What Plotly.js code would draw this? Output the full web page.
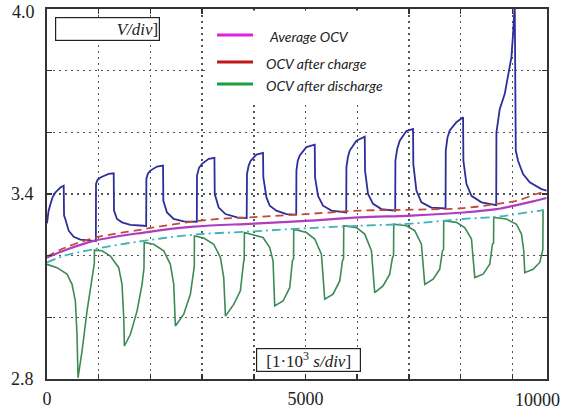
<!DOCTYPE html>
<html>
<head>
<meta charset="utf-8">
<script src="https://cdn.plot.ly/plotly-3.0.1.min.js"></script>
<style>html,body{margin:0;padding:0;background:#fff;}#chart{width:570px;height:412px;}</style>
</head>
<body>
<div id="chart"></div>
<script>
// Time in seconds, voltage in volts
var chargeT = [0,30,66,110,162,259,323,330,355,420,516,646,903,945,948,975,1020,1064,1193,1290,1296,1354,1451,1613,1870,1918,1922,1950,2000,2128,2244,2250,2321,2450,2644,2870,2898,2901,2940,2998,3128,3238,3244,3321,3451,3675,3837,3862,3868,3900,3940,4050,4178,4184,4244,4308,4437,4631,4791,4820,4824,4850,4888,5017,5178,5184,5242,5338,5501,5759,5787,5791,5820,5855,5985,6145,6151,6209,6306,6468,6706,6734,6738,6775,6822,6951,7079,7085,7144,7241,7434,7692,7708,7712,7745,7789,7918,8047,8053,8112,8209,8402,8660,8688,8692,8756,8853,8917,8982,9014,9046,9066,9110,9207,9336,9563,9660];
var chargeV = [3.305,3.345,3.367,3.390,3.405,3.421,3.427,3.330,3.318,3.281,3.261,3.252,3.248,3.247,3.433,3.445,3.452,3.456,3.465,3.467,3.346,3.319,3.308,3.300,3.297,3.296,3.449,3.466,3.476,3.489,3.492,3.378,3.340,3.319,3.311,3.310,3.310,3.460,3.485,3.498,3.514,3.517,3.400,3.356,3.335,3.324,3.322,3.322,3.465,3.492,3.508,3.528,3.533,3.454,3.389,3.362,3.346,3.335,3.333,3.333,3.476,3.508,3.525,3.552,3.560,3.454,3.394,3.362,3.346,3.340,3.340,3.487,3.520,3.541,3.573,3.586,3.476,3.400,3.368,3.351,3.346,3.346,3.508,3.548,3.573,3.604,3.611,3.497,3.411,3.373,3.356,3.353,3.353,3.541,3.583,3.606,3.633,3.649,3.508,3.433,3.394,3.373,3.364,3.364,3.600,3.675,3.725,3.779,3.844,3.920,4.02,3.541,3.508,3.465,3.438,3.416,3.411];

var dischargeT = [0,193,387,484,549,580,600,677,774,870,903,915,917,1064,1226,1387,1451,1484,1497,1613,1741,1838,1876,1880,2064,2257,2386,2451,2483,2644,2773,2837,2849,2851,3031,3224,3354,3418,3451,3611,3740,3805,3814,3818,4178,4308,4372,4404,4565,4694,4746,4768,4772,5017,5178,5307,5371,5532,5662,5714,5735,5739,5985,6145,6274,6338,6499,6628,6681,6702,6706,6951,7112,7241,7306,7467,7596,7648,7669,7673,7918,8079,8209,8273,8434,8563,8615,8636,8640,8886,9079,9176,9220,9240,9400,9530,9582,9590,9594];
var dischargeV = [3.172,3.161,3.140,3.107,3.053,2.945,2.804,2.890,3.020,3.129,3.172,3.175,3.218,3.216,3.199,3.161,3.107,2.999,2.907,2.945,3.020,3.107,3.160,3.243,3.237,3.216,3.172,3.107,2.972,3.010,3.075,3.161,3.165,3.264,3.257,3.237,3.194,3.129,3.004,3.042,3.086,3.183,3.185,3.275,3.259,3.226,3.183,3.037,3.053,3.096,3.183,3.190,3.286,3.275,3.254,3.205,3.059,3.075,3.118,3.183,3.190,3.297,3.291,3.270,3.216,3.080,3.102,3.140,3.194,3.200,3.302,3.297,3.281,3.237,3.107,3.124,3.156,3.216,3.220,3.313,3.308,3.291,3.254,3.129,3.140,3.172,3.237,3.240,3.324,3.319,3.302,3.270,3.216,3.145,3.156,3.178,3.216,3.220,3.350];

var avgT = [0,323,903,1870,2837,3998,5017,6048,7048,8047,8692,9079,9400,9660];
var avgV = [3.194,3.216,3.248,3.275,3.294,3.304,3.313,3.324,3.330,3.340,3.351,3.364,3.376,3.387];

var afterChargeT = [0,323,903,1870,2837,3482,3998,5017,6048,7048,8047,8692,9079,9466,9660];
var afterChargeV = [3.196,3.224,3.257,3.286,3.311,3.321,3.325,3.335,3.346,3.349,3.354,3.368,3.378,3.400,3.408];

var afterDischargeT = [0,323,903,1870,2837,3998,5017,6048,7048,8047,8692,9079,9600];
var afterDischargeV = [3.178,3.199,3.221,3.248,3.268,3.279,3.289,3.297,3.304,3.319,3.326,3.335,3.348];

var xTickVals = [0,1000,2000,3000,4000,5000,6000,7000,8000,9000];
var xTickText = ["0"," "," "," "," ","5000"," "," "," "," "];
var yTickVals = [2.8,3.0,3.2,3.4,3.6,3.8,4.0];
var yTickText = ["2.8"," "," ","3.4"," "," ","4.0"];
var legendNames = ["Average OCV","OCV after charge","OCV after discharge"];
var legendColors = ["#e020e0","#c01818","#18a040"];

var traces = [
  {x: chargeT, y: chargeV, mode: 'lines', line: {color: '#2e2e9a', width: 1.8}, showlegend: false},
  {x: dischargeT, y: dischargeV, mode: 'lines', line: {color: '#3d8a55', width: 1.6}, showlegend: false},
  {x: afterDischargeT, y: afterDischargeV, mode: 'lines', line: {color: '#3fb4b4', width: 1.8, dash: '9px,4px,2px,4px', shape: 'spline'}, showlegend: false},
  {x: afterChargeT, y: afterChargeV, mode: 'lines', line: {color: '#c24a3a', width: 1.8, dash: '8px,5px', shape: 'spline'}, showlegend: false},
  {x: avgT, y: avgV, mode: 'lines', line: {color: '#b03cc0', width: 2.2, shape: 'spline'}, showlegend: false}
];

var L = 47, R = 23, T = 9, B = 33;
var W = 570 - L - R, H = 412 - T - B;
function px(x) { return (x - L) / W; }
function py(y) { return 1 - (y - T) / H; }

var shapes = [
  {type: 'rect', xref: 'paper', yref: 'paper', x0: px(208), x1: px(405), y0: py(103), y1: py(10.5), fillcolor: '#ffffff', line: {width: 0}, layer: 'above'}
];
var legendY = [35, 62, 84];
var annotations = [];
for (var i = 0; i < legendNames.length; i++) {
  shapes.push({type: 'line', xref: 'paper', yref: 'paper', x0: px(217), x1: px(253), y0: py(legendY[i]), y1: py(legendY[i]), line: {color: legendColors[i], width: 3}, layer: 'above'});
  annotations.push({xref: 'paper', yref: 'paper', x: px(i === 0 ? 267 : 264), y: py(legendY[i] + 1), xanchor: 'left', yanchor: 'middle', showarrow: false, text: '<i>' + legendNames[i] + '</i>', font: {family: 'Lato, "Open Sans", sans-serif', size: 14, color: '#222'}});
}
annotations.push({xref: 'paper', yref: 'paper', x: px(55), y: py(17), xanchor: 'left', yanchor: 'top', showarrow: false, width: 101, height: 20, align: 'right', borderpad: 1, bordercolor: '#222', borderwidth: 1.2, bgcolor: '#fff', text: '<i>V/div</i>]', font: {family: '"Liberation Serif", serif', size: 17, color: '#222'}});
annotations.push({xref: 'paper', yref: 'paper', x: px(256), y: py(348), xanchor: 'left', yanchor: 'top', showarrow: false, width: 101, height: 20, align: 'center', borderpad: 1, bordercolor: '#222', borderwidth: 1.2, bgcolor: '#fff', text: '[1·10<sup>3</sup> <i>s/div</i>]', font: {family: '"Liberation Serif", serif', size: 17, color: '#222'}});
annotations.push({xref: 'paper', yref: 'paper', x: px(537), y: 0, yshift: -21, xanchor: 'center', yanchor: 'middle', showarrow: false, text: '10000', font: {family: '"Liberation Serif", serif', size: 18, color: '#222'}});
annotations.push({xref: 'paper', yref: 'paper', x: 0, xshift: -10, y: py(12), xanchor: 'right', yanchor: 'middle', showarrow: false, text: '4.0', font: {family: '"Liberation Serif", serif', size: 18, color: '#222'}});

var layout = {
  width: 570, height: 412,
  margin: {l: L, r: R, t: T, b: B, pad: 0},
  paper_bgcolor: '#fff', plot_bgcolor: '#fff',
  showlegend: false,
  xaxis: {
    range: [0, 9670], tickvals: xTickVals, ticktext: xTickText,
    ticks: 'inside', ticklen: 5, tickwidth: 1.5, tickcolor: '#333',
    showline: true, linecolor: '#333', linewidth: 1.8, mirror: 'ticks',
    showgrid: true, gridcolor: '#555', gridwidth: 1.4, griddash: '2px,4px',
    zeroline: false, ticklabelstandoff: 3,
    tickfont: {family: '"Liberation Serif", serif', size: 18, color: '#222'}
  },
  yaxis: {
    range: [2.8, 4.0], tickvals: yTickVals.slice(0, 6), ticktext: yTickText.slice(0, 6),
    ticks: 'inside', ticklen: 5, tickwidth: 1.5, tickcolor: '#333',
    showline: true, linecolor: '#333', linewidth: 1.8, mirror: 'ticks',
    showgrid: true, gridcolor: '#555', gridwidth: 1.4, griddash: '2px,4px',
    zeroline: false, ticklabelstandoff: 8,
    tickfont: {family: '"Liberation Serif", serif', size: 18, color: '#222'}
  },
  shapes: shapes,
  annotations: annotations
};

Plotly.newPlot('chart', traces, layout, {staticPlot: true, displayModeBar: false});
</script>
</body>
</html>
